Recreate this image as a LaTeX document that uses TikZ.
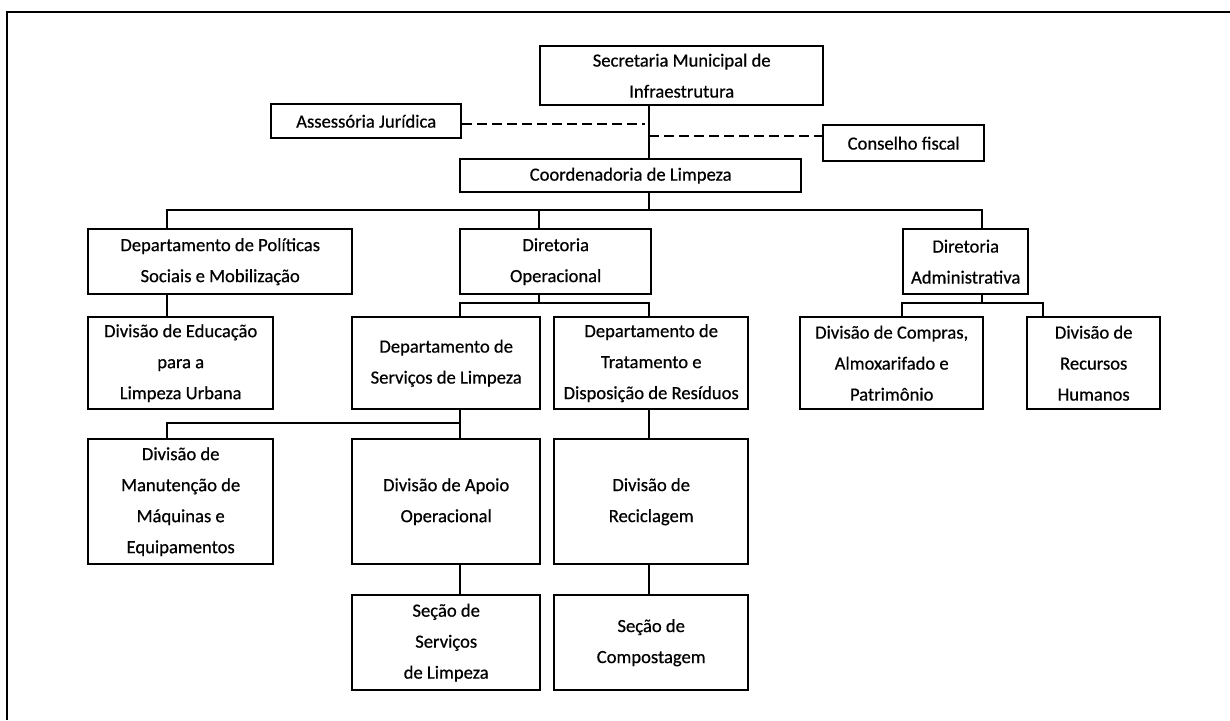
\documentclass[tikz,border=0pt]{standalone}
\usepackage{fontspec}
\setmainfont{Carlito}[BoldFont=Carlito, BoldFeatures={FakeBold=0.6}]
\begin{document}
\begin{tikzpicture}[x=1pt,y=-1pt,
  box/.style={draw, line width=2.4pt, anchor=north west, align=center, inner sep=0pt,
    font=\fontsize{18.6}{31}\selectfont\bfseries},
  conn/.style={line width=2pt},
  dashline/.style={line width=2.6pt, dash pattern=on 10pt off 5pt}]
\useasboundingbox (0,0) rectangle (1230,720);
\draw[line width=1.8pt] (7,720) -- (7,12) -- (1230,12);

% boxes
\node[box, minimum width=283pt, minimum height=59pt] (sec) at (539,45) {Secretaria Municipal de\\Infraestrutura};
\node[box, minimum width=190pt, minimum height=34pt] (asj) at (270,103) {Assessória Jurídica};
\node[box, minimum width=161pt, minimum height=36pt] (cf) at (822,124) {Conselho fiscal};
\node[box, minimum width=341pt, minimum height=33pt] (coo) at (459,158) {Coordenadoria de Limpeza};
\node[box, minimum width=264pt, minimum height=65pt] (dps) at (87,228) {Departamento de Políticas\\Sociais e Mobilização};
\node[box, minimum width=191pt, minimum height=65pt] (dop) at (459,228) {Diretoria\\Operacional};
\node[box, minimum width=125pt, minimum height=65pt] (dad) at (902,228) {Diretoria\\Administrativa};
\node[box, minimum width=185pt, minimum height=92pt] (deu) at (87,316) {Divisão de Educação\\para a\\Limpeza Urbana};
\node[box, minimum width=188pt, minimum height=92pt] (dsl) at (351,316) {Departamento de\\Serviços de Limpeza};
\node[box, minimum width=194pt, minimum height=92pt] (dtd) at (553,316) {Departamento de\\Tratamento e\\Disposição de Resíduos};
\node[box, minimum width=183pt, minimum height=92pt] (dca) at (799,316) {Divisão de Compras,\\Almoxarifado e\\Patrimônio};
\node[box, minimum width=133pt, minimum height=92pt] (drh) at (1026,316) {Divisão de\\Recursos\\Humanos};
\node[box, minimum width=185pt, minimum height=125pt] (dmm) at (87,438) {Divisão de\\Manutenção de\\Máquinas e\\Equipamentos};
\node[box, minimum width=188pt, minimum height=125pt] (dao) at (351,438) {Divisão de Apoio\\Operacional};
\node[box, minimum width=194pt, minimum height=125pt] (dre) at (553,438) {Divisão de\\Reciclagem};
\node[box, minimum width=188pt, minimum height=95pt] (ssl) at (351,594) {Seção de\\Serviços\\de Limpeza};
\node[box, minimum width=194pt, minimum height=95pt] (sco) at (553,594) {Seção de\\Compostagem};

% helper coordinates
\coordinate (xA) at (649,0);
\coordinate (xB) at (167,0);
\coordinate (xC) at (539,0);
\coordinate (xD) at (982,0);
\coordinate (xE) at (460,0);
\coordinate (xF) at (902,0);
\coordinate (xG) at (1043,0);
\coordinate (bar1) at (0,210);
\coordinate (bar2) at (0,303);
\coordinate (bar3) at (0,423);
\coordinate (da) at (645,124);
\coordinate (db) at (649,136);

% connectors
\draw[conn] (sec.south -| xA) -- (coo.north -| xA);
\draw[dashline] (asj.east |- da) -- (da);
\draw[dashline] (db) -- (cf.west |- db);
\draw[conn] (coo.south -| xA) -- (xA |- bar1);
\draw[conn] (dps.north -| xB) -- (xB |- bar1) -- (xD |- bar1) -- (dad.north -| xD);
\draw[conn] (dop.north -| xC) -- (xC |- bar1);
\draw[conn] (dop.south -| xC) -- (xC |- bar2);
\draw[conn] (dsl.north -| xE) -- (xE |- bar2) -- (xA |- bar2) -- (dtd.north -| xA);
\draw[conn] (dps.south -| xB) -- (deu.north -| xB);
\draw[conn] (dad.south -| xD) -- (xD |- bar2);
\draw[conn] (dca.north -| xF) -- (xF |- bar2) -- (xG |- bar2) -- (drh.north -| xG);
\draw[conn] (dsl.south -| xE) -- (dao.north -| xE);
\draw[conn] (dmm.north -| xB) -- (xB |- bar3) -- (xE |- bar3);
\draw[conn] (dtd.south -| xA) -- (dre.north -| xA);
\draw[conn] (dao.south -| xE) -- (ssl.north -| xE);
\draw[conn] (dre.south -| xA) -- (sco.north -| xA);
\end{tikzpicture}
\end{document}
